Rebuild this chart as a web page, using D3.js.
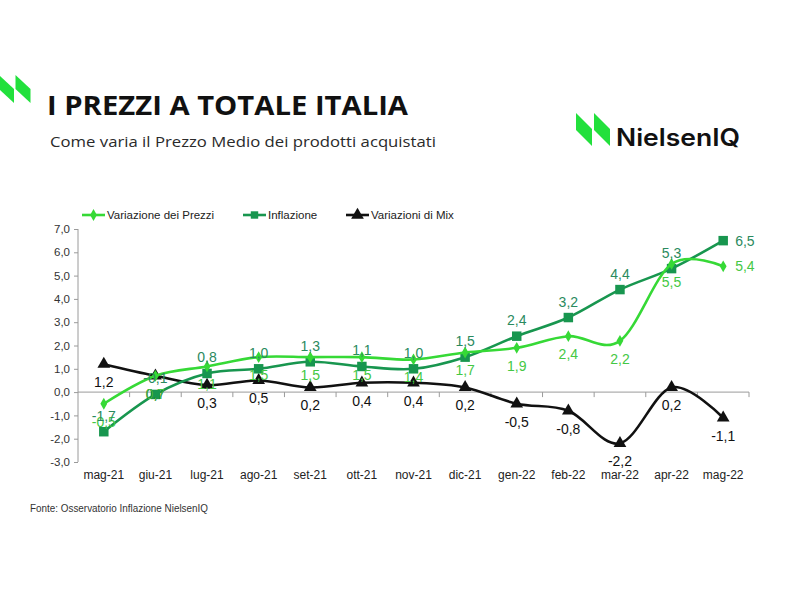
<!DOCTYPE html>
<html>
<head>
<meta charset="utf-8">
<script src="https://cdn.jsdelivr.net/npm/d3@7"></script>
<style>
  html, body { margin: 0; padding: 0; background: #fff; }
  svg { display: block; }
</style>
</head>
<body>
<svg id="chart" width="800" height="600"></svg>
<script>
// ---- data ----
const months = ["mag-21","giu-21","lug-21","ago-21","set-21","ott-21","nov-21","dic-21","gen-22","feb-22","mar-22","apr-22","mag-22"];
const prezzi = [-0.5, 0.7, 1.1, 1.5, 1.5, 1.5, 1.4, 1.7, 1.9, 2.4, 2.2, 5.5, 5.4];
const inflazione = [-1.7, -0.1, 0.8, 1.0, 1.3, 1.1, 1.0, 1.5, 2.4, 3.2, 4.4, 5.3, 6.5];
const mix = [1.2, 0.7, 0.3, 0.5, 0.2, 0.4, 0.4, 0.2, -0.5, -0.8, -2.2, 0.2, -1.1];
const yTicks = [-3, -2, -1, 0, 1, 2, 3, 4, 5, 6, 7];
const seriesNames = ["Variazione dei Prezzi", "Inflazione", "Variazioni di Mix"];

const cLight = "#36d936", cLightLbl = "#44c844";
const cDark = "#18964f", cDarkLbl = "#2a8a5e";
const cMix = "#111111";
const fmt = v => v.toFixed(1).replace(".", ",");

const svg = d3.select("#chart");

// ---- header ----
function niqMark(g, x, y, w, s, h, gap) {
  [0, 1].forEach(i => {
    const x0 = x + i * (w + gap);
    g.append("polygon")
      .attr("points", [[x0, y], [x0 + w, y + s], [x0 + w, y + s + h], [x0, y + h]].map(p => p.join(",")).join(" "))
      .attr("fill", "#22e03c");
  });
}
niqMark(svg, -1, 75, 15, 14, 14, 1.5);
svg.append("text").attr("x", 47).attr("y", 115)
  .attr("font-family", "'Open Sans', sans-serif").attr("font-weight", 700).attr("font-size", 26.5)
  .attr("fill", "#111").attr("textLength", 361).attr("lengthAdjust", "spacingAndGlyphs")
  .text("I PREZZI A TOTALE ITALIA");
svg.append("text").attr("x", 50).attr("y", 147)
  .attr("font-family", "'Open Sans', sans-serif").attr("font-size", 15)
  .attr("fill", "#2a2a2a").attr("textLength", 386).attr("lengthAdjust", "spacingAndGlyphs")
  .text("Come varia il Prezzo Medio dei prodotti acquistati");
niqMark(svg, 576, 113, 16, 16, 17, 2);
svg.append("text").attr("x", 616).attr("y", 146)
  .attr("font-family", "Inter, 'Open Sans', sans-serif").attr("font-weight", 600).attr("font-size", 24)
  .attr("fill", "#111").attr("textLength", 124).attr("lengthAdjust", "spacingAndGlyphs")
  .text("NielsenIQ");

// ---- scales ----
const x = d3.scaleBand().domain(months).range([78, 749]).padding(0);
const y = d3.scaleLinear().domain([-3, 7]).range([462, 229]);
const cx = m => x(m) + x.bandwidth() / 2;

// ---- axes ----
const axisColor = "#9a9a9a";
const yAxis = svg.append("g").attr("transform", "translate(78,0)")
  .call(d3.axisLeft(y).tickValues(yTicks).tickFormat(fmt).tickSize(4).tickPadding(4));
yAxis.select(".domain").attr("stroke", axisColor).attr("d", `M0,${y(-3)}V${y(7)}`);
yAxis.selectAll(".tick line").attr("stroke", axisColor);
yAxis.selectAll(".tick text").attr("font-family", "'Liberation Sans', Arial, sans-serif")
  .attr("font-size", 11.5).attr("fill", "#333");

const xAxisG = svg.append("g").attr("transform", `translate(0,${y(0)})`);
xAxisG.append("line").attr("x1", 78).attr("x2", 749).attr("y1", 0).attr("y2", 0).attr("stroke", axisColor);
xAxisG.selectAll("line.tk").data(months.slice(1).concat(["_end"])).enter().append("line")
  .attr("class", "tk")
  .attr("x1", (d, i) => 78 + x.bandwidth() * (i + 1)).attr("x2", (d, i) => 78 + x.bandwidth() * (i + 1))
  .attr("y1", 0).attr("y2", 5).attr("stroke", axisColor);
svg.append("g").selectAll("text").data(months).enter().append("text")
  .attr("x", d => cx(d)).attr("y", 479).attr("text-anchor", "middle")
  .attr("font-family", "'Liberation Sans', Arial, sans-serif").attr("font-size", 12).attr("fill", "#222")
  .text(d => d);

// ---- lines ----
const curve = d3.curveCardinal.tension(0);
const line = d3.line().x((d, i) => cx(months[i])).y(d => y(d)).curve(curve);

function drawSeries(vals, color, marker) {
  const g = svg.append("g");
  g.append("path").attr("d", line(vals)).attr("fill", "none").attr("stroke", color)
    .attr("stroke-width", 2.6).attr("stroke-linejoin", "round");
  g.selectAll("path.m").data(vals).enter().append("path").attr("class", "m")
    .attr("transform", (d, i) => `translate(${cx(months[i])},${y(d)})`)
    .attr("d", marker).attr("fill", color);
  return g;
}
const diamond = d3.symbol().type(d3.symbolDiamond).size(40)();
const square = d3.symbol().type(d3.symbolSquare).size(90)();
const triangle = d3.symbol().type(d3.symbolTriangle).size(70)();

drawSeries(mix, cMix, triangle);
drawSeries(inflazione, cDark, square);
drawSeries(prezzi, cLight, diamond);

// ---- data labels ----
const lblFont = "'Liberation Sans', Arial, sans-serif";
function labels(vals, color, pos) {
  svg.append("g").selectAll("text").data(vals).enter().append("text")
    .attr("x", (d, i) => pos(d, i).right ? cx(months[i]) + 12 : cx(months[i]))
    .attr("y", (d, i) => y(d) + pos(d, i).dy)
    .attr("text-anchor", (d, i) => pos(d, i).right ? "start" : "middle")
    .attr("font-family", lblFont).attr("font-size", 14).attr("fill", color)
    .text(fmt);
}
const last = months.length - 1;
labels(mix, cMix, () => ({ dy: 23 }));
labels(prezzi, cLightLbl, (d, i) => i === last ? { right: true, dy: 5 } : { dy: 23 });
labels(inflazione, cDarkLbl, (d, i) => i === last ? { right: true, dy: 5 } : { dy: -11 });

// ---- legend ----
const legend = svg.append("g");
const legItems = [
  { name: seriesNames[0], color: cLight, marker: diamond, x: 82 },
  { name: seriesNames[1], color: cDark, marker: square, x: 243 },
  { name: seriesNames[2], color: cMix, marker: triangle, x: 346 }
];
legItems.forEach(it => {
  legend.append("line").attr("x1", it.x).attr("x2", it.x + 23).attr("y1", 215).attr("y2", 215)
    .attr("stroke", it.color).attr("stroke-width", 2.6);
  legend.append("path").attr("transform", `translate(${it.x + 11.5},215)`).attr("d", it.marker === square ? d3.symbol().type(d3.symbolSquare).size(55)() : it.marker)
    .attr("fill", it.color);
  legend.append("text").attr("x", it.x + 25).attr("y", 219)
    .attr("font-family", lblFont).attr("font-size", 11.5).attr("fill", "#222").text(it.name);
});

// ---- footer ----
svg.append("text").attr("x", 30).attr("y", 512)
  .attr("font-family", "'Liberation Sans Narrow', 'Liberation Sans', Arial, sans-serif").attr("font-size", 10)
  .attr("fill", "#333").attr("textLength", 178).attr("lengthAdjust", "spacingAndGlyphs")
  .text("Fonte: Osservatorio Inflazione NielsenIQ");
</script>
</body>
</html>
